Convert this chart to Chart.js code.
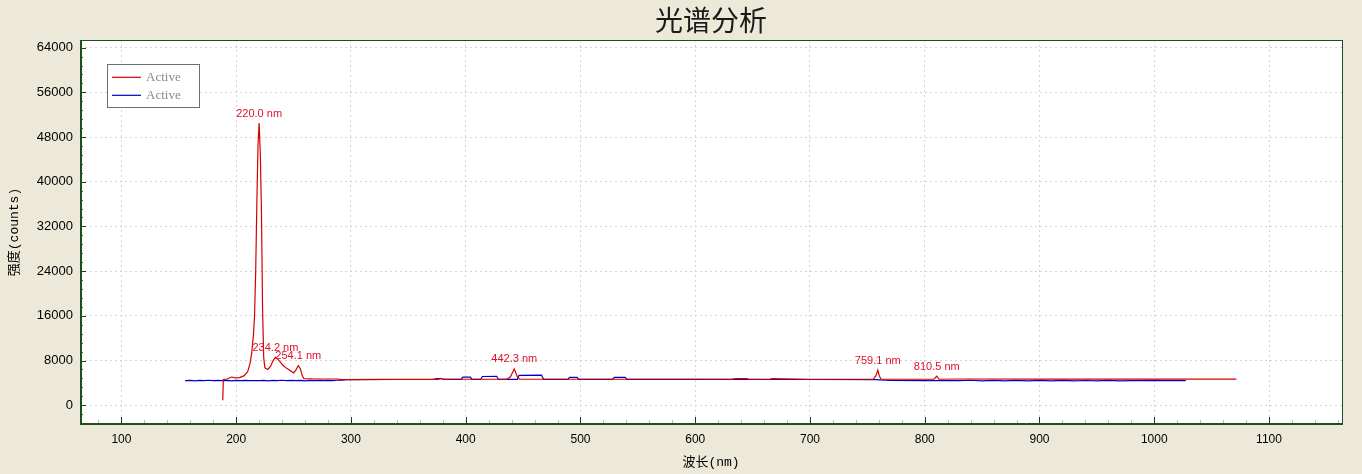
<!DOCTYPE html>
<html><head><meta charset="utf-8">
<script src="https://cdn.jsdelivr.net/npm/chart.js@4/dist/chart.umd.min.js"></script>
<style>html,body{margin:0;padding:0;background:#ECE9D8;}#wrap{width:1362px;height:474px;}</style>
</head><body><div id="wrap"><canvas id="c" width="1362" height="474"></canvas></div>
<script>
const chartTitle = '光谱分析';
const xTitle = '波长(nm)';
const yTitle = '强度(counts)';
const seriesNames = ['Active', 'Active'];
const xTicks = [100, 200, 300, 400, 500, 600, 700, 800, 900, 1000, 1100];
const yTicks = [0, 8000, 16000, 24000, 32000, 40000, 48000, 56000, 64000];
const xRange = [63.9, 1163.6];
const yRange = [-3355, 65364];

const redWl = [188.3, 188.8, 192, 196, 199, 203, 207, 210, 212, 213.5, 215, 216, 217, 218, 219, 220, 221, 222, 223, 224, 225, 227.5, 230, 232, 234.2, 236, 238.5, 241, 244, 247, 250, 252, 254.1, 256, 257.5, 259, 270, 288, 292, 330, 376, 378, 380, 420, 436, 439, 442.3, 445, 447, 465, 600, 632, 635, 645, 647, 665, 667, 700, 740, 755, 757.5, 759.1, 760.5, 762, 800, 808, 810.5, 812.5, 830, 900, 1000, 1071.5];
const redVal = [900, 4600, 4700, 5050, 4900, 4950, 5300, 6000, 7400, 9300, 12500, 16000, 24000, 36000, 46500, 50500, 45000, 35000, 17000, 8500, 6700, 6400, 7000, 7900, 8600, 8300, 7700, 7100, 6600, 6200, 5800, 6300, 7100, 6500, 5300, 4750, 4700, 4700, 4600, 4620, 4640, 4800, 4650, 4650, 4650, 5100, 6500, 5100, 4650, 4650, 4650, 4650, 4780, 4780, 4650, 4650, 4750, 4650, 4650, 4650, 5300, 6300, 5200, 4650, 4650, 4650, 5200, 4650, 4700, 4680, 4680, 4680];

const blueWl = [155.5, 160, 164, 168, 172, 176, 180, 184, 188, 192, 196, 200, 204, 208, 212, 216, 220, 224, 228, 232, 236, 240, 244, 248, 252, 256, 260, 264, 268, 272, 276, 280, 284, 288, 292, 296, 300, 340, 372, 375, 379, 381, 396, 397.5, 404, 405.5, 413, 414.5, 427, 428.5, 445, 446.5, 466, 468, 489, 490.5, 497, 498.5, 528, 529.5, 539, 540.5, 600, 700, 757, 770, 800, 830, 840, 850, 860, 870, 880, 890, 900, 910, 920, 930, 940, 950, 960, 970, 980, 990, 1000, 1010, 1020, 1027.5];
const blueVal = [4420, 4460, 4380, 4450, 4400, 4470, 4390, 4440, 4400, 4460, 4380, 4440, 4420, 4460, 4390, 4430, 4410, 4450, 4380, 4460, 4400, 4470, 4390, 4450, 4400, 4460, 4380, 4440, 4410, 4460, 4400, 4450, 4420, 4470, 4500, 4560, 4600, 4610, 4620, 4780, 4780, 4620, 4620, 5050, 5050, 4620, 4620, 5150, 5180, 4620, 4620, 5350, 5380, 4620, 4620, 5000, 5000, 4620, 4620, 5000, 5000, 4620, 4620, 4610, 4580, 4430, 4420, 4400, 4470, 4380, 4450, 4360, 4460, 4380, 4440, 4350, 4460, 4380, 4430, 4360, 4450, 4380, 4420, 4390, 4440, 4400, 4420, 4400];

const peakLabels = ['220.0 nm', '234.2 nm', '254.1 nm', '442.3 nm', '759.1 nm', '810.5 nm'];
const peakWl = [220.0, 234.2, 254.1, 442.3, 759.1, 810.5];
const peakVal = [50500, 8600, 7100, 6500, 6300, 5200];

const redPts = redWl.map((x, i) => ({x, y: redVal[i]}));
const bluePts = blueWl.map((x, i) => ({x, y: blueVal[i]}));

const decor = {
  id: 'decor',
  beforeDraw(chart) {
    const {ctx, chartArea: a} = chart;
    ctx.save();
    ctx.fillStyle = '#ECE9D8';
    ctx.fillRect(0, 0, chart.width, chart.height);
    ctx.fillStyle = '#FFFFFF';
    ctx.fillRect(a.left, a.top, a.right - a.left, a.bottom - a.top);
    ctx.restore();
  },
  afterDraw(chart) {
    const {ctx, chartArea: a, scales} = chart;
    const xs = scales.x, ys = scales.y;
    ctx.save();
    ctx.lineWidth = 1;
    for (let v = 80; v <= 1160; v += 20) {
      const px = Math.round(xs.getPixelForValue(v)) + 0.5;
      const major = v % 100 === 0;
      ctx.strokeStyle = major ? '#1f3f1f' : '#b8b8b8';
      ctx.beginPath();
      ctx.moveTo(px, a.bottom);
      ctx.lineTo(px, a.bottom - (major ? 7 : 4));
      ctx.stroke();
    }
    for (let v = -1600; v <= 65000; v += 1600) {
      const py = Math.round(ys.getPixelForValue(v)) + 0.5;
      if (py < a.top || py > a.bottom) continue;
      const major = v % 8000 === 0;
      ctx.strokeStyle = major ? '#1f3f1f' : '#3a7a3a';
      ctx.beginPath();
      ctx.moveTo(a.left, py);
      ctx.lineTo(a.left + (major ? 6 : 3), py);
      ctx.stroke();
    }
    ctx.strokeStyle = '#1f4f1f';
    ctx.lineWidth = 1;
    ctx.strokeRect(Math.round(a.left) + 0.5, Math.round(a.top) + 0.5, Math.round(a.right - a.left), Math.round(a.bottom - a.top));
    ctx.beginPath();
    ctx.moveTo(Math.round(a.left) + 1.5, a.top); ctx.lineTo(Math.round(a.left) + 1.5, a.bottom);
    ctx.moveTo(a.left, Math.round(a.bottom) - 0.5); ctx.lineTo(a.right, Math.round(a.bottom) - 0.5);
    ctx.stroke();
    ctx.fillStyle = '#1a1a1a';
    ctx.font = '28px "Noto Sans CJK SC"';
    ctx.textAlign = 'center';
    ctx.textBaseline = 'middle';
    ctx.fillText(chartTitle, (a.left + a.right) / 2, 20);
    ctx.font = '13px "Liberation Mono", "Noto Sans CJK SC"';
    ctx.fillStyle = '#000';
    ctx.fillText(xTitle, (a.left + a.right) / 2, 463);
    ctx.save();
    ctx.translate(15, (a.top + a.bottom) / 2);
    ctx.rotate(-Math.PI / 2);
    ctx.fillText(yTitle, 0, 0);
    ctx.restore();
    ctx.font = '11px "Liberation Sans", Arial';
    ctx.fillStyle = '#e0102a';
    ctx.textBaseline = 'bottom';
    peakLabels.forEach((t, i) => {
      ctx.fillText(t, xs.getPixelForValue(peakWl[i]), ys.getPixelForValue(peakVal[i]) - 4);
    });
    const lx = 107.5, ly = 64.5;
    ctx.fillStyle = '#fff';
    ctx.fillRect(lx, ly, 92, 43);
    ctx.strokeStyle = '#707070';
    ctx.lineWidth = 1;
    ctx.strokeRect(lx, ly, 92, 43);
    chart.data.datasets.forEach((ds, i) => {
      const yy = 77.3 + i * 18;
      ctx.strokeStyle = ds.borderColor;
      ctx.lineWidth = 1.2;
      ctx.beginPath(); ctx.moveTo(112, yy); ctx.lineTo(141, yy); ctx.stroke();
      ctx.fillStyle = '#8a8a8a';
      ctx.font = '13px "Liberation Serif"';
      ctx.textAlign = 'left';
      ctx.textBaseline = 'middle';
      ctx.fillText(ds.label, 146, yy);
    });
    ctx.restore();
  }
};

new Chart(document.getElementById('c'), {
  type: 'line',
  data: {
    datasets: [
      {label: seriesNames[0], data: redPts, borderColor: '#d40000', borderWidth: 1.2, pointRadius: 0, tension: 0, fill: false},
      {label: seriesNames[1], data: bluePts, borderColor: '#0000c8', borderWidth: 1.2, pointRadius: 0, tension: 0, fill: false}
    ]
  },
  options: {
    responsive: false,
    animation: false,
    events: [],
    layout: {padding: {top: 40, right: 20, left: 0, bottom: 0}},
    plugins: {legend: {display: false}, title: {display: false}, tooltip: {enabled: false}},
    scales: {
      x: {
        type: 'linear', min: xRange[0], max: xRange[1],
        afterBuildTicks: s => { s.ticks = xTicks.map(v => ({value: v})); },
        afterFit: s => { s.height = 50; },
        grid: {color: '#d4d4d4', drawTicks: false},
        border: {display: false, dash: [2, 3]},
        ticks: {color: '#000', font: {family: 'Liberation Sans', size: 12}, padding: 8, maxRotation: 0, autoSkip: false, callback: v => String(v)}
      },
      y: {
        type: 'linear', min: yRange[0], max: yRange[1],
        afterBuildTicks: s => { s.ticks = yTicks.map(v => ({value: v})); },
        afterFit: s => { s.width = 80; },
        grid: {color: '#d4d4d4', drawTicks: false},
        border: {display: false, dash: [2, 3]},
        ticks: {color: '#000', font: {family: 'Liberation Sans', size: 13}, padding: 7, autoSkip: false, callback: v => String(v)}
      }
    }
  },
  plugins: [decor]
});
</script>
</body></html>
